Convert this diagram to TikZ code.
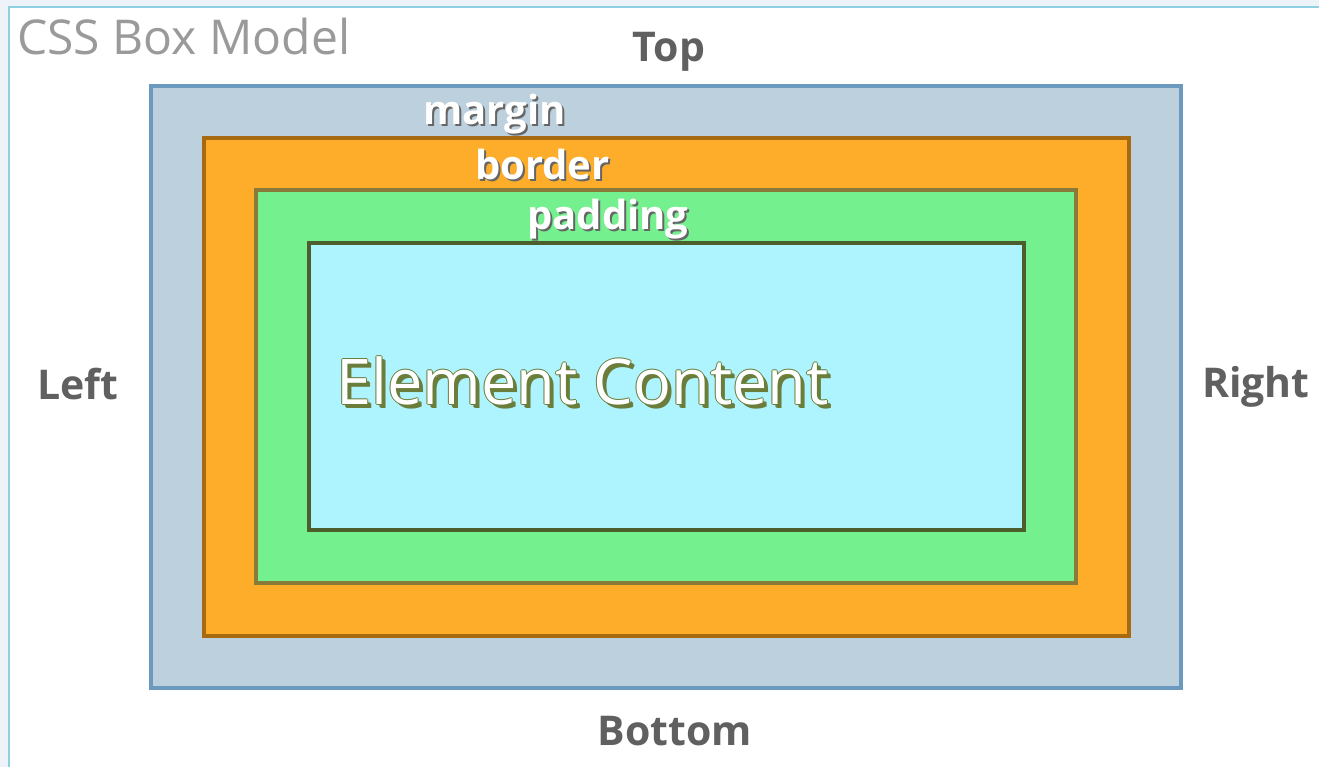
\documentclass[tikz,border=0pt]{standalone}
\usepackage{fontspec}
\setmainfont{Open Sans}
\definecolor{pagebg}{HTML}{EEF3F9}
\definecolor{frameline}{HTML}{8ED0E0}
\definecolor{marginfill}{HTML}{BDD0DE}
\definecolor{margindraw}{HTML}{6C9ABF}
\definecolor{borderfill}{HTML}{FDAD29}
\definecolor{borderdraw}{HTML}{A86A10}
\definecolor{paddingfill}{HTML}{74F08E}
\definecolor{paddingdraw}{HTML}{8A7A3A}
\definecolor{contentfill}{HTML}{AEF4FE}
\definecolor{contentdraw}{HTML}{4B5E2C}
\definecolor{labelgray}{HTML}{606060}
\definecolor{titlegray}{HTML}{9A9A9A}
\definecolor{olive}{HTML}{6B7D3A}
\begin{document}
\begin{tikzpicture}[x=1pt,y=-1pt,
  side/.style={anchor=base west,inner sep=0pt,text=labelgray,font=\fontsize{41}{41}\selectfont\bfseries},
  layer/.style={anchor=base west,inner sep=0pt,text=white,font=\fontsize{40}{40}\selectfont\bfseries},
  layershadow/.style={layer,text=black!60}]
		% page and frame
		\useasboundingbox (0,0) rectangle (1319,767);
		\fill[pagebg] (0,0) rectangle (1319,767);
		\filldraw[fill=white,draw=frameline,line width=2pt] (9,7) rectangle (1340,800);
		\node[anchor=base west,inner sep=0pt,text=titlegray,font=\fontsize{48}{48}\selectfont] (title) at (17,55) {CSS Box Model};
		% the four boxes
		\filldraw[fill=marginfill,draw=margindraw,line width=4pt] (151,86) rectangle (1181,688);
		\filldraw[fill=borderfill,draw=borderdraw,line width=4pt] (204,138) rectangle (1129,636);
		\filldraw[fill=paddingfill,draw=paddingdraw,line width=4pt] (256,190) rectangle (1076,583);
		\filldraw[fill=contentfill,draw=contentdraw,line width=4pt] (309,243) rectangle (1024,530);
		% box names
		\node[layershadow] (marginsh) at (425,127) {margin};
		\node[layer] (margin) at (423,125) {margin};
		\node[layershadow] (bordersh) at (477,182) {border};
		\node[layer] (border) at (475,180) {border};
		\node[layershadow] (paddingsh) at (529,232) {padding};
		\node[layer] (padding) at (527,230) {padding};
		% content text, outlined
		\foreach \dx/\dy [count=\i] in {3/3,4/4,-1/0,1/0,0/-1,0/1}
			\node[anchor=base west,inner sep=0pt,text=olive,font=\fontsize{63}{63}\selectfont] (elemsh\i) at (336+\dx,404+\dy) {Element Content};
		\node[anchor=base west,inner sep=0pt,text=white,font=\fontsize{63}{63}\selectfont] (elem) at (336,404) {Element Content};
		% sides
		\node[side,anchor=base] (top) at (669,62) {Top};
		\node[side] (left) at (37,399) {Left};
		\node[side] (right) at (1202,397) {Right};
		\node[side,anchor=base] (bottom) at (675,745) {Bottom};
\end{tikzpicture}
\end{document}
